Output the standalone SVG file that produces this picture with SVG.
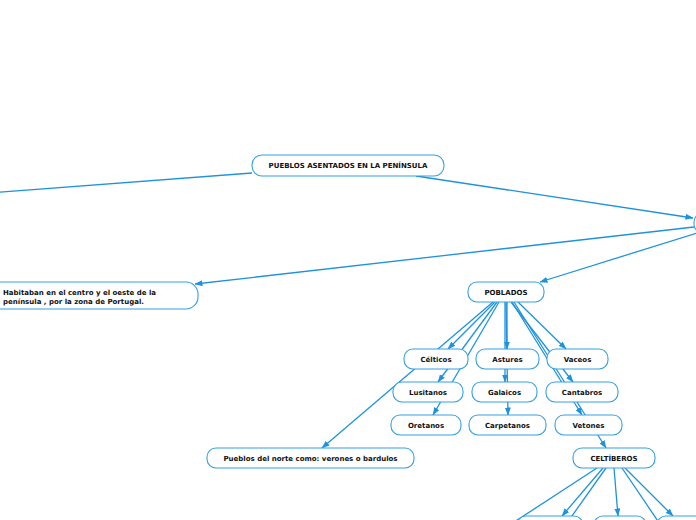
<svg xmlns="http://www.w3.org/2000/svg" width="696" height="520" viewBox="0 0 696 520">
<style>
.n rect{fill:#fff;stroke:#35a0e2;stroke-width:1.1}
.n text{font-family:"DejaVu Sans",Verdana,sans-serif;font-weight:bold;font-size:7px;fill:#111;text-anchor:middle}
.n text.l{text-anchor:start}
#connectors line{stroke:#1e93dc;stroke-width:1.3;fill:none}
#connectors line.a{marker-end:url(#arr)}
</style>
<defs>
<marker id="arr" markerUnits="userSpaceOnUse" markerWidth="8" markerHeight="6" refX="7.5" refY="3" orient="auto">
<path d="M0,0 L8,3 L0,6 z" fill="#1e93dc"/>
</marker>
</defs>
<rect width="696" height="520" fill="#fff"/>
<g id="connectors">
<line x1="252" y1="173" x2="-12" y2="193"/>
<line class="a" x1="416" y1="176" x2="693" y2="218"/>
<line class="a" x1="694" y1="227" x2="195" y2="284"/>
<line class="a" x1="697" y1="233" x2="540" y2="282"/>
<line class="a" x1="495" y1="302" x2="448" y2="349"/>
<line class="a" x1="493" y1="302" x2="322" y2="448"/>
<line class="a" x1="497" y1="302" x2="438" y2="382"/>
<line class="a" x1="499" y1="302" x2="433" y2="415"/>
<line class="a" x1="507" y1="302" x2="507" y2="349"/>
<line class="a" x1="505" y1="302" x2="505" y2="382"/>
<line class="a" x1="506" y1="302" x2="508" y2="415"/>
<line class="a" x1="518" y1="302" x2="566" y2="349"/>
<line class="a" x1="511" y1="302" x2="573" y2="382"/>
<line class="a" x1="512" y1="302" x2="582" y2="415"/>
<line class="a" x1="514" y1="302" x2="606" y2="448"/>
<line x1="597" y1="468" x2="505" y2="528"/>
<line class="a" x1="603" y1="468" x2="562" y2="516"/>
<line x1="606" y1="468" x2="562" y2="530"/>
<line class="a" x1="614" y1="468" x2="618" y2="516"/>
<line x1="622" y1="468" x2="664" y2="530"/>
<line class="a" x1="625" y1="468" x2="673" y2="516"/>
</g>
<g id="n-main" class="n"><rect x="252" y="155" width="192" height="21" rx="10"/><text x="348" y="168">PUEBLOS ASENTADOS EN LA PENÍNSULA</text></g>
<g id="n-right" class="n"><rect x="694" y="213" width="60" height="20" rx="9"/></g>
<g id="n-habitaban" class="n"><rect x="-12" y="282" width="210" height="27" rx="12"/><text class="l" x="3" y="294.5">Habitaban en el centro y el oeste de la</text><text class="l" x="3" y="303.5">península , por la zona de Portugal.</text></g>
<g id="n-poblados" class="n"><rect x="468" y="282" width="76" height="20" rx="9"/><text x="506" y="294.5">POBLADOS</text></g>
<g id="n-celticos" class="n"><rect x="404" y="349" width="64" height="20" rx="9"/><text x="436" y="361.5">Célticos</text></g>
<g id="n-astures" class="n"><rect x="476" y="349" width="63" height="20" rx="9"/><text x="507.5" y="361.5">Astures</text></g>
<g id="n-vaceos" class="n"><rect x="547" y="349" width="61" height="20" rx="9"/><text x="577.5" y="361.5">Vaceos</text></g>
<g id="n-lusitanos" class="n"><rect x="393" y="382" width="70" height="20" rx="9"/><text x="428" y="394.5">Lusitanos</text></g>
<g id="n-galaicos" class="n"><rect x="472" y="382" width="65" height="20" rx="9"/><text x="504.5" y="394.5">Galaicos</text></g>
<g id="n-cantabros" class="n"><rect x="546" y="382" width="72" height="20" rx="9"/><text x="582" y="394.5">Cantabros</text></g>
<g id="n-oretanos" class="n"><rect x="391" y="415" width="70" height="20" rx="9"/><text x="426" y="427.5">Oretanos</text></g>
<g id="n-carpetanos" class="n"><rect x="469" y="415" width="77" height="20" rx="9"/><text x="507.5" y="427.5">Carpetanos</text></g>
<g id="n-vetones" class="n"><rect x="555" y="415" width="67" height="20" rx="9"/><text x="588.5" y="427.5">Vetones</text></g>
<g id="n-norte" class="n"><rect x="207" y="448" width="207" height="20" rx="9"/><text x="310.5" y="460.5">Pueblos del norte como: verones o bardulos</text></g>
<g id="n-celtiberos" class="n"><rect x="573" y="448" width="82" height="20" rx="9"/><text x="614" y="460.5">CELTÍBEROS</text></g>
<g id="n-b1" class="n"><rect x="517" y="516" width="66" height="20" rx="9"/></g>
<g id="n-b2" class="n"><rect x="594" y="516" width="52" height="20" rx="9"/></g>
<g id="n-b3" class="n"><rect x="657" y="516" width="64" height="20" rx="9"/></g>
</svg>
